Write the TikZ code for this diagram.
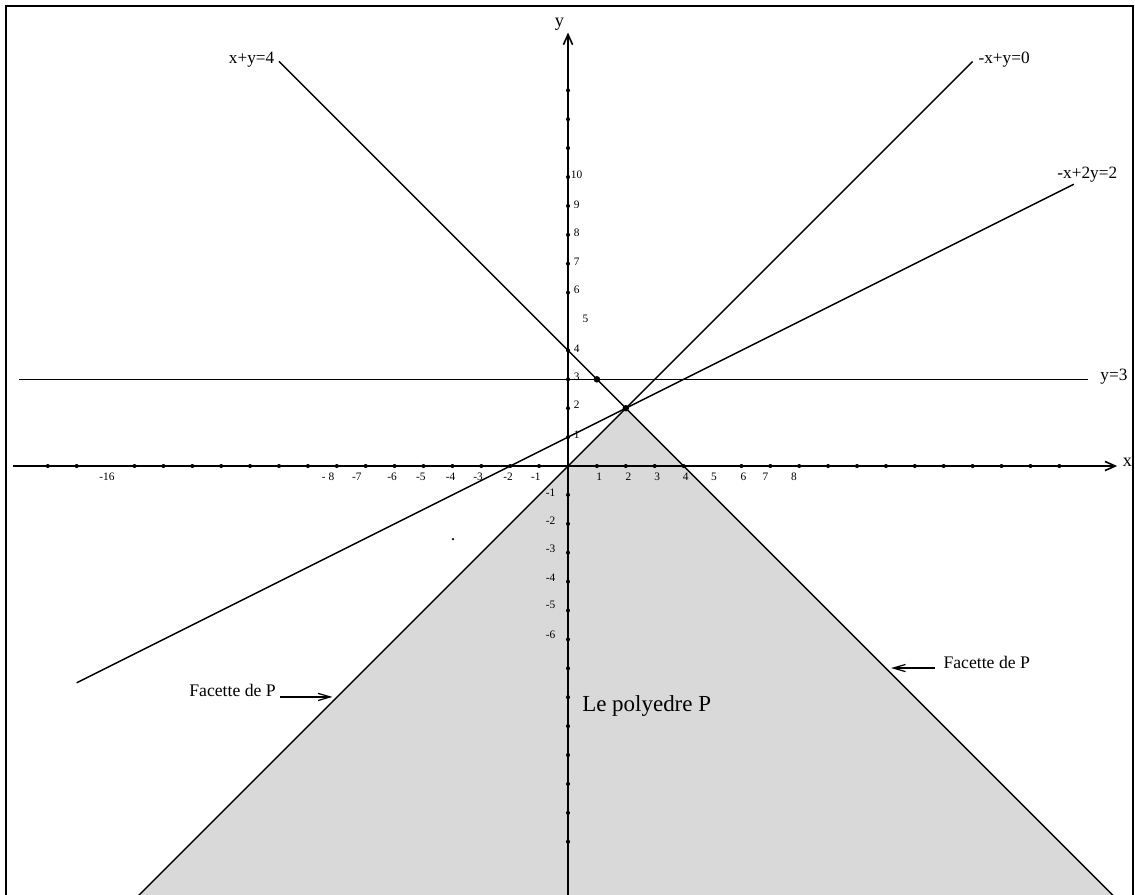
\documentclass[tikz,border=0pt]{standalone}
\usepackage{fontspec}
\setmainfont{Liberation Serif}
\usepackage{tikz}
\usetikzlibrary{arrows.meta}
\usepackage{xcolor}

\begin{document}
\begin{tikzpicture}[x=0.5cm, y=0.5cm, >={Straight Barb[length=6pt,width=3.5pt]},
  eqlbl/.style={font=\fontsize{8.5}{9}\selectfont, inner sep=0pt},
  ticklbl/.style={font=\fontsize{5.6}{6}\selectfont, inner sep=0pt},
  facette/.style={font=\fontsize{8.7}{9}\selectfont, inner sep=0pt}]
  \clip (-19.654,-14.81) rectangle (19.619,16.125);
  %% Frame
  \draw[line width=1pt] (-19.45,-16) rectangle (19.55,15.92);

  %% ── Le polyedre P (y <= x, x+y <= 4)
  \fill[black!15] (2,2) -- (-15.5,-15.5) -- (19.5,-15.5) -- cycle;

  %% Axes
  \draw[-{Straight Barb[length=5pt,width=4.5pt]}, line width=0.8pt] (-19.2,0) -- (19,0);
  \draw[-{Straight Barb[length=5pt,width=4.5pt]}, line width=0.8pt] (0,-15) -- (0,15);
  \node[font=\fontsize{9}{10}\selectfont] (xname) at (19.36,0.12) {x};
  \node[font=\fontsize{9}{10}\selectfont] (yname) at (-0.3,15.28) {y};

  %% Tick dots
  \foreach \x in {-18,-17,-15,-14,...,-1}{
    \fill (\x,0) circle (1pt);
  }
  \foreach \x in {1,2,3,4,6,7,...,17}{
    \fill (\x,0) circle (1pt);
  }
  \foreach \y in {-13,-12,...,-1,1,2,3,4,6,7}{
    \fill (0,\y) circle (1pt);
  }
  \foreach \y in {8,9,...,13}{
    \fill (0,\y) circle (1pt);
  }

  %% Tick labels
  \foreach \x/\lbl [count=\i] in {-15.95/-16, -8.3/- 8, -7.31/-7, -6.09/-6, -5.09/-5,
      -4.06/-4, -3.11/-3, -2.07/-2, -1.11/-1, 1.08/1, 2.09/2, 3.09/3, 4.07/4,
      5.05/5, 6.07/6, 6.83/7, 7.82/8}{
    \node[ticklbl] (xt\i) at (\x,-0.38) {\lbl};
  }
  \foreach \y/\lbl [count=\i] in {1.07/1, 2.11/2, 3.09/3, 4.07/4, 6.09/6, 7.07/7,
      8.06/8, 9.03/9, 10.07/10}{
    \node[ticklbl] (yt\i) at (0.3,\y) {\lbl};
  }
  \node[ticklbl] (yt5) at (0.6,5.11) {5};
  \foreach \y/\lbl [count=\i] in {-0.92/-1, -1.89/-2, -2.87/-3, -3.85/-4,
      -4.81/-5, -5.85/-6}{
    \node[ticklbl] (ytm\i) at (-0.6,\y) {\lbl};
  }

  %% ── Les droites
  \draw[line width=0.7pt] (-10,14) -- (19.5,-15.5);    % x+y=4
  \draw[line width=0.7pt] (-15.5,-15.5) -- (14,14);    % -x+y=0
  \draw[line width=0.7pt] (-17,-7.5) -- (17.5,9.75);   % -x+2y=2
  \draw[line width=0.7pt] (-19,3) -- (18,3);           % y=3
  \node[eqlbl, anchor=east] (lxy) at (-10.15,14.05) {x+y=4};
  \node[eqlbl, anchor=west] (lmxy) at (14.19,14.05) {-x+y=0};
  \node[eqlbl, anchor=west] (lmx2y) at (16.92,10.07) {-x+2y=2};
  \node[eqlbl, anchor=west] (ly3) at (18.41,3.08) {y=3};

  %% Points
  \fill (1,3) circle (1.6pt);
  \fill (2,2) circle (1.6pt);
  \fill (-3.98,-2.53) circle (0.6pt);

  %% Facettes
  \node[facette, anchor=base east] (facL) at (-10.1,-7.99) {Facette de P};
  \coordinate (facLtip) at (-8.15,-7.99);
  \draw[->, line width=0.6pt] ([xshift=2pt]facL.base east) -- (facLtip);
  \node[facette, anchor=base west] (facR) at (12.98,-6.99) {Facette de P};
  \coordinate (facRtip) at (11.18,-6.99);
  \draw[->, line width=0.6pt] ([xshift=-4pt]facR.base west) -- (facRtip);

  \node[font=\fontsize{11.3}{13}\selectfont, anchor=base west, inner sep=0pt]
    (poly) at (0.48,-8.51) {Le polyedre P};
\end{tikzpicture}
\end{document}
